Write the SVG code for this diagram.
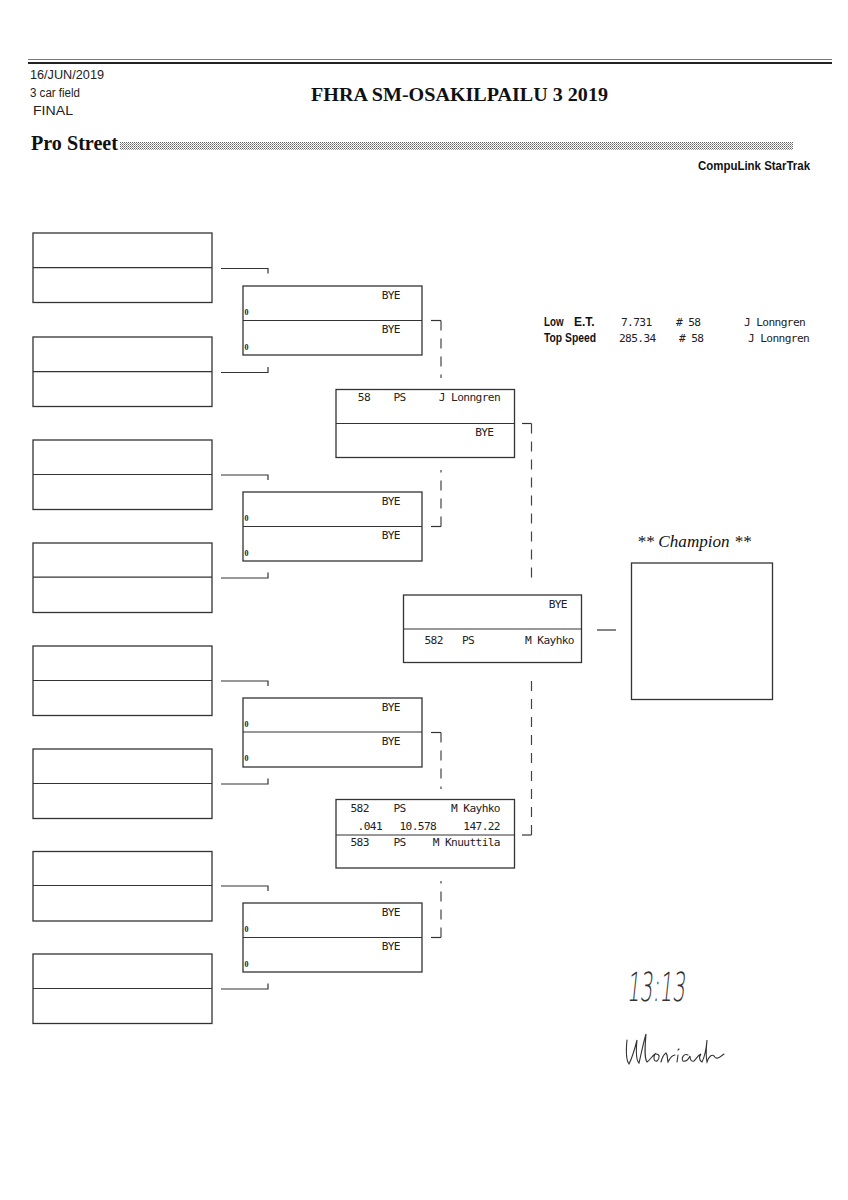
<svg xmlns="http://www.w3.org/2000/svg" width="848" height="1200" viewBox="0 0 848 1200">
<style>
.bx{fill:#fff;stroke:#333;stroke-width:1.3}
.dv{stroke:#333;stroke-width:1.2;fill:none}
.ln{stroke:#333;stroke-width:1.2;fill:none}
.ds{stroke:#444;stroke-width:1.2;fill:none;stroke-dasharray:10 8}
.m{font-family:"DejaVu Sans Mono","Liberation Mono",monospace;font-size:11.2px;letter-spacing:-0.62px;fill:#222}
.e{text-anchor:end}
.sd{font-family:"Liberation Serif",serif;font-weight:bold;font-size:8px;fill:#222}
.hs{font-family:"Liberation Sans Narrow","Liberation Sans",sans-serif;font-size:12px;fill:#222}
.lb{font-family:"Liberation Sans Narrow","Liberation Sans",sans-serif;font-weight:bold;font-size:12px;fill:#111}
.ttl{font-family:"Liberation Serif",serif;font-weight:bold;fill:#111}
</style>
<defs>
<pattern id="dots" width="2" height="2" patternUnits="userSpaceOnUse">
<rect x="0" y="0" width="1" height="1" fill="#666"/>
<rect x="1" y="1" width="1" height="1" fill="#999"/>
</pattern>
</defs>
<rect width="848" height="1200" fill="#fff"/>

<g id="header">
<line x1="28" y1="59.5" x2="832" y2="59.5" stroke="#777" stroke-width="1"/>
<line x1="28" y1="63" x2="832" y2="63" stroke="#222" stroke-width="2"/>
<text class="hs" x="30" y="79" textLength="74" lengthAdjust="spacingAndGlyphs">16/JUN/2019</text>
<text class="hs" x="30" y="97" textLength="50" lengthAdjust="spacingAndGlyphs">3 car field</text>
<text class="hs" x="33" y="115" textLength="40" lengthAdjust="spacingAndGlyphs">FINAL</text>
<text class="ttl" x="311" y="101" font-size="19" textLength="297" lengthAdjust="spacingAndGlyphs">FHRA SM-OSAKILPAILU 3 2019</text>
<text class="ttl" x="31" y="150" font-size="20" textLength="87" lengthAdjust="spacingAndGlyphs">Pro Street</text>
<rect x="120" y="142" width="673" height="8" fill="url(#dots)"/>
<text class="lb" x="810" y="170" font-size="11" text-anchor="end" textLength="112" lengthAdjust="spacingAndGlyphs">CompuLink StarTrak</text>
</g>

<g id="stats">
<text class="lb" x="544" y="325.5" textLength="19.5" lengthAdjust="spacingAndGlyphs">Low</text>
<text class="lb" x="574" y="325.5" textLength="20.5" lengthAdjust="spacingAndGlyphs">E.T.</text>
<text class="m" x="621" y="325.5">7.731</text>
<text class="m" x="676" y="325.5"># 58</text>
<text class="m" x="744" y="325.5">J Lonngren</text>
<text class="lb" x="544" y="341.5" textLength="52" lengthAdjust="spacingAndGlyphs">Top Speed</text>
<text class="m" x="619" y="341.5">285.34</text>
<text class="m" x="679" y="341.5"># 58</text>
<text class="m" x="748" y="341.5">J Lonngren</text>
</g>

<g id="connectors">
<path class="ln" d="M221,268.5H268V273.5"/>
<path class="ln" d="M221,372.5H268V367"/>
<path class="ln" d="M221,475H268V480"/>
<path class="ln" d="M221,578H268V572.5"/>
<path class="ln" d="M221,681H268V686"/>
<path class="ln" d="M221,784H268V778.5"/>
<path class="ln" d="M221,886H268V891"/>
<path class="ln" d="M221,989H268V983.5"/>
<path class="ln" d="M431,320.5H441"/><path class="ds" d="M441,320.5V378"/>
<path class="ln" d="M431,526.5H441"/><path class="ds" d="M441,526.5V470"/>
<path class="ln" d="M431,732.5H441"/><path class="ds" d="M441,732.5V789"/>
<path class="ln" d="M431,937.5H441"/><path class="ds" d="M441,937.5V881"/>
<path class="ln" d="M522,423.5H531.5"/><path class="ds" d="M531.5,423.5V585"/>
<path class="ln" d="M522,835H531.5"/><path class="ds" d="M531.5,835V676"/>
<path class="ln" d="M597,630H616"/>
</g>

<g id="r1-1"><rect class="bx" x="33" y="233" width="179" height="69.5"/><line class="dv" x1="33" y1="267.7" x2="212" y2="267.7"/></g>
<g id="r1-2"><rect class="bx" x="33" y="337" width="179" height="69.5"/><line class="dv" x1="33" y1="371.7" x2="212" y2="371.7"/></g>
<g id="r1-3"><rect class="bx" x="33" y="440" width="179" height="69.5"/><line class="dv" x1="33" y1="474.5" x2="212" y2="474.5"/></g>
<g id="r1-4"><rect class="bx" x="33" y="543" width="179" height="69.5"/><line class="dv" x1="33" y1="577.2" x2="212" y2="577.2"/></g>
<g id="r1-5"><rect class="bx" x="33" y="646" width="179" height="69.5"/><line class="dv" x1="33" y1="680.5" x2="212" y2="680.5"/></g>
<g id="r1-6"><rect class="bx" x="33" y="749" width="179" height="69.5"/><line class="dv" x1="33" y1="783.5" x2="212" y2="783.5"/></g>
<g id="r1-7"><rect class="bx" x="33" y="851.5" width="179" height="69.5"/><line class="dv" x1="33" y1="885.5" x2="212" y2="885.5"/></g>
<g id="r1-8"><rect class="bx" x="33" y="954" width="179" height="69.5"/><line class="dv" x1="33" y1="988.5" x2="212" y2="988.5"/></g>

<g id="r2-1"><rect class="bx" x="243" y="286" width="179" height="69"/><line class="dv" x1="243" y1="320.5" x2="422" y2="320.5"/>
<text class="m e" x="400" y="298.5">BYE</text><text class="sd" x="244.5" y="315">0</text>
<text class="m e" x="400" y="333">BYE</text><text class="sd" x="244.5" y="349.5">0</text></g>
<g id="r2-2"><rect class="bx" x="243" y="492" width="179" height="69"/><line class="dv" x1="243" y1="526.5" x2="422" y2="526.5"/>
<text class="m e" x="400" y="504.5">BYE</text><text class="sd" x="244.5" y="521">0</text>
<text class="m e" x="400" y="539">BYE</text><text class="sd" x="244.5" y="555.5">0</text></g>
<g id="r2-3"><rect class="bx" x="243" y="698" width="179" height="69"/><line class="dv" x1="243" y1="732" x2="422" y2="732"/>
<text class="m e" x="400" y="710.5">BYE</text><text class="sd" x="244.5" y="727">0</text>
<text class="m e" x="400" y="744.5">BYE</text><text class="sd" x="244.5" y="761">0</text></g>
<g id="r2-4"><rect class="bx" x="243" y="903" width="179" height="69"/><line class="dv" x1="243" y1="937.5" x2="422" y2="937.5"/>
<text class="m e" x="400" y="915.5">BYE</text><text class="sd" x="244.5" y="932">0</text>
<text class="m e" x="400" y="950">BYE</text><text class="sd" x="244.5" y="966.5">0</text></g>

<g id="r3-1"><rect class="bx" x="336" y="389.5" width="178.5" height="68"/><line class="dv" x1="336" y1="423.5" x2="514.5" y2="423.5"/>
<text class="m e" x="370" y="401">58</text><text class="m" x="393.5" y="401">PS</text><text class="m e" x="500" y="401">J Lonngren</text>
<text class="m e" x="493.5" y="435.5">BYE</text></g>
<g id="r3-2"><rect class="bx" x="336" y="799.5" width="178.5" height="68.5"/><line class="dv" x1="336" y1="835" x2="514.5" y2="835"/>
<text class="m" x="350.5" y="812">582</text><text class="m" x="393.5" y="812">PS</text><text class="m e" x="500" y="812">M Kayhko</text>
<text class="m e" x="382" y="829.5">.041</text><text class="m" x="399.5" y="829.5">10.578</text><text class="m e" x="500" y="829.5">147.22</text>
<text class="m" x="350.5" y="846">583</text><text class="m" x="393.5" y="846">PS</text><text class="m e" x="500" y="846">M Knuuttila</text></g>

<g id="r4"><rect class="bx" x="403.5" y="595" width="178" height="67.5"/><line class="dv" x1="403.5" y1="629" x2="581.5" y2="629"/>
<text class="m e" x="567" y="607.5">BYE</text>
<text class="m" x="424.5" y="644">582</text><text class="m" x="462" y="644">PS</text><text class="m e" x="574" y="644">M Kayhko</text></g>

<g id="champion">
<text x="694" y="547" font-family="Liberation Serif,serif" font-style="italic" font-size="17" fill="#111" text-anchor="middle" textLength="114" lengthAdjust="spacingAndGlyphs">** Champion **</text>
<rect class="bx" x="631.5" y="563" width="141" height="136.5"/>
</g>

<g id="handwriting">
<text x="628" y="1001" font-family="DejaVu Sans,sans-serif" font-weight="200" font-size="40" fill="#333" textLength="58" lengthAdjust="spacingAndGlyphs" transform="skewX(-6) translate(104,0)">13:13</text>
<path d="M627,1040 C626,1050 626,1060 629,1064 C632,1058 635,1048 637,1040 C636,1050 636,1060 639,1063 C641,1055 643,1044 646,1034 C645,1046 644,1058 647,1062 C650,1060 652,1056 655,1054 C653,1058 654,1062 657,1061 C660,1058 660,1054 656,1054 M661,1062 C662,1058 663,1055 666,1053 C668,1055 667,1059 668,1062 C670,1058 672,1055 675,1055 M677,1062 L678,1055 M678,1050 L679,1049 M688,1055 C684,1053 681,1058 683,1061 C686,1062 688,1060 690,1056 C690,1059 691,1062 694,1061 C697,1058 698,1055 701,1054 C699,1056 699,1061 702,1062 C704,1058 706,1052 707,1040 C706,1050 706,1058 707,1062 C709,1056 712,1054 714,1056 C716,1060 719,1058 724,1054" fill="none" stroke="#333" stroke-width="1.1" stroke-linecap="round"/>
</g>
</svg>
